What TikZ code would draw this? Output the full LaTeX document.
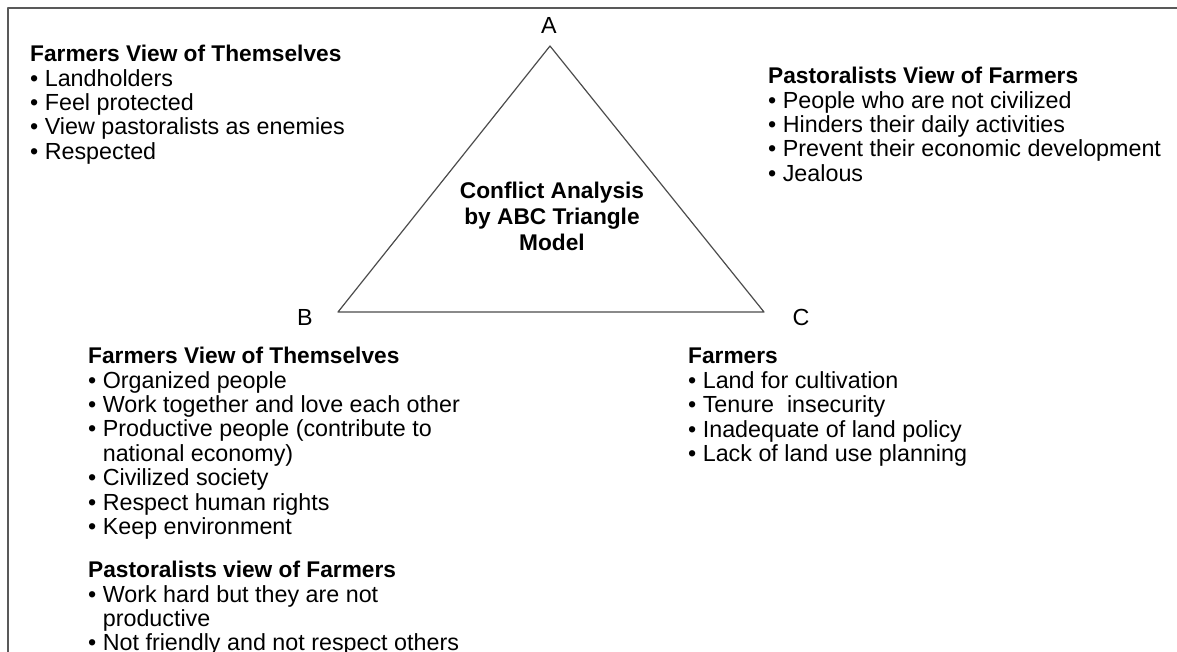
\documentclass[tikz,border=0pt]{standalone}
\usepackage{fontspec}
\setmainfont{Liberation Sans}
\newcommand{\itm}{\textbullet\ }
\newcommand{\cnt}{\hphantom{\textbullet\ }}
\newcommand{\hd}[1]{{\bfseries\fontsize{22.7}{24.4}\selectfont #1}}

\begin{document}
\begin{tikzpicture}[x=1pt, y=-1pt, font=\fontsize{23.3}{24.4}\selectfont, line join=round, line cap=round,
	view/.style={anchor=north west, inner sep=0pt, align=left},
	corner/.style={inner sep=0pt}]
	\useasboundingbox (0,0) rectangle (1177,652);
	% frame
	\draw[line width=1.5pt, black!65] (8,652) -- (8,8) -- (1177,8);
	% triangle
	\coordinate (va) at (550,46);
	\coordinate (vb) at (338,312);
	\coordinate (vc) at (764,312);
	\draw[line width=1.2pt, black!70] (va) -- (vb) -- (vc) -- cycle;
	\node[corner] (labA) at (549,25) {A};
	\node[corner] (labB) at (305,317) {B};
	\node[corner] (labC) at (801,317) {C};
	\node[font=\bfseries\fontsize{22.7}{26}\selectfont, align=center] (model) at (552,216) {Conflict Analysis\\by ABC Triangle\\Model};
	% views
	\node[view] (farmA) at (30,45) {\hd{Farmers View of Themselves}\\
		\itm Landholders\\
		\itm Feel protected\\
		\itm View pastoralists as enemies\\
		\itm Respected};
	\node[view] (pastA) at (768,67) {\hd{Pastoralists View of Farmers}\\
		\itm People who are not civilized\\
		\itm Hinders their daily activities\\
		\itm Prevent their economic development\\
		\itm Jealous};
	\node[view] (farmB) at (88,347) {\hd{Farmers View of Themselves}\\
		\itm Organized people\\
		\itm Work together and love each other\\
		\itm Productive people (contribute to\\
		\cnt national economy)\\
		\itm Civilized society\\
		\itm Respect human rights\\
		\itm Keep environment};
	\node[view] (pastB) at (88,561) {\hd{Pastoralists view of Farmers}\\
		\itm Work hard but they are not\\
		\cnt productive\\
		\itm Not friendly and not respect others};
	\node[view] (farmC) at (688,348) {\hd{Farmers}\\
		\itm Land for cultivation\\
		\itm Tenure\ \ insecurity\\
		\itm Inadequate of land policy\\
		\itm Lack of land use planning};
\end{tikzpicture}
\end{document}
